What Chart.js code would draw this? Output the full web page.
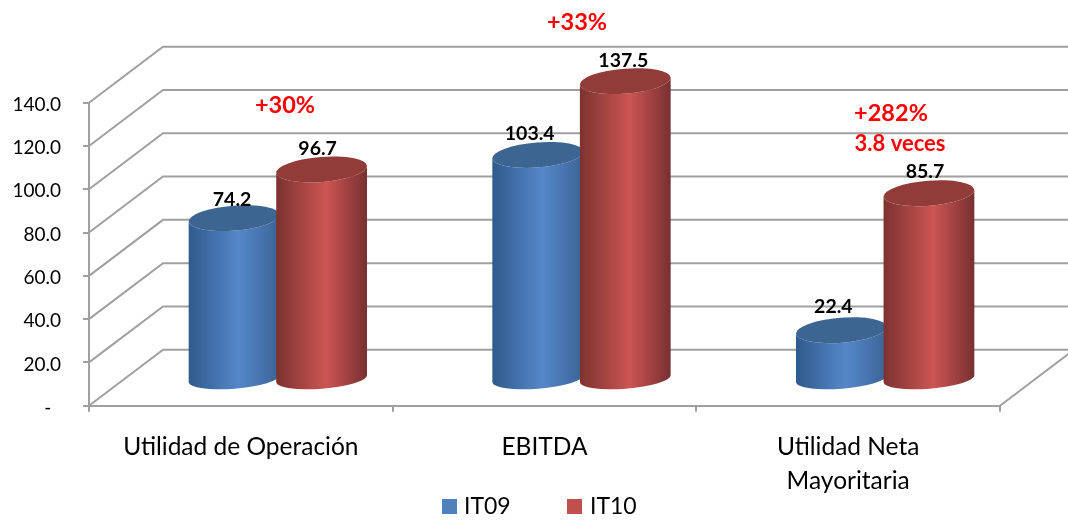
<!DOCTYPE html>
<html>
<head>
<meta charset="utf-8">
<style>
    html, body { margin: 0; padding: 0; background: #fff; }
    canvas { display: block; }
</style>
<script src="https://cdn.jsdelivr.net/npm/chart.js@4"></script>
</head>
<body>
<canvas id="chart" width="1068" height="520"></canvas>
<script>
const categories = [['Utilidad de Operación'], ['EBITDA'], ['Utilidad Neta', 'Mayoritaria']];
const seriesNames = ['IT09', 'IT10'];
const it09 = [74.2, 103.4, 22.4];
const it10 = [96.7, 137.5, 85.7];
const growthNotes = ['+30%', '+33%', '+282%'];
const extraNote = '3.8 veces';

const FONT = 'Lato, Carlito, sans-serif';
const GRID = '#a0a0a0';
const DEPTH_X = 74;
const DEPTH_Y = 56;

// per-bar label nudges, the labels in the original are hand placed
const labelNudge = [
    [[-2, -6], [-4, -9]],
    [[-8, -9], [-2, -8]],
    [[-8, -12], [-4, -10]]
];
const notePlace = [[285, 105], [577, 22], [891, 113]];

const looks = [
    { side: ['#2f5a8c', '#5587c9', '#3a6496'], top: '#3d6592', flat: '#4f81bd' },
    { side: ['#7c322f', '#cc5553', '#773030'], top: '#913c39', flat: '#c0504d' }
];

function drawCylinder(ctx, bar, look) {
    const cx = bar.x + DEPTH_X / 2;
    const rx = bar.width / 2;
    const topY = bar.y - 27;
    const baseY = bar.base - 26;
    const tilt = -4.5 * Math.PI / 180;

    const grad = ctx.createLinearGradient(cx - rx, 0, cx + rx, 0);
    grad.addColorStop(0, look.side[0]);
    grad.addColorStop(0.55, look.side[1]);
    grad.addColorStop(1, look.side[2]);

    ctx.beginPath();
    ctx.ellipse(cx, baseY, rx, 10, tilt, 0, Math.PI);
    ctx.ellipse(cx, topY, rx, 12.5, tilt, Math.PI, 0, true);
    ctx.closePath();
    ctx.fillStyle = grad;
    ctx.fill();

    ctx.beginPath();
    ctx.ellipse(cx, topY, rx, 12.5, tilt, 0, Math.PI * 2);
    ctx.fillStyle = look.top;
    ctx.fill();
}

const cylinders = {
    id: 'cylinders',
    beforeDatasetsDraw(chart) {
        const { ctx, scales, chartArea } = chart;
        ctx.save();
        ctx.strokeStyle = GRID;
        ctx.lineWidth = 2;
        scales.y.ticks.forEach(t => {
            const y = scales.y.getPixelForValue(t.value);
            ctx.beginPath();
            ctx.moveTo(chartArea.left, y);
            ctx.lineTo(chartArea.left + DEPTH_X, y - DEPTH_Y);
            ctx.lineTo(chartArea.right + DEPTH_X, y - DEPTH_Y);
            ctx.stroke();
        });
        ctx.beginPath();
        ctx.moveTo(chartArea.right, chartArea.bottom);
        ctx.lineTo(chartArea.right + DEPTH_X, chartArea.bottom - DEPTH_Y);
        ctx.stroke();
        ctx.restore();
    },
    beforeDatasetDraw() {
        return false; // default flat rectangles replaced below
    },
    afterDatasetsDraw(chart) {
        const { ctx } = chart;
        ctx.save();
        chart.data.datasets.forEach((ds, d) => {
            chart.getDatasetMeta(d).data.forEach(bar => drawCylinder(ctx, bar, looks[d]));
        });

        // value labels
        ctx.textAlign = 'center';
        ctx.textBaseline = 'middle';
        ctx.fillStyle = '#000';
        ctx.font = 'bold 19.5px ' + FONT;
        chart.data.datasets.forEach((ds, d) => {
            chart.getDatasetMeta(d).data.forEach((bar, i) => {
                const n = labelNudge[i][d];
                ctx.fillText(ds.data[i].toFixed(1), bar.x + DEPTH_X / 2 + n[0], bar.y - 27 - 12 + n[1]);
            });
        });

        // growth notes
        ctx.fillStyle = '#ff0000';
        ctx.font = 'bold 23.5px ' + FONT;
        growthNotes.forEach((txt, i) => ctx.fillText(txt, notePlace[i][0], notePlace[i][1]));
        ctx.font = 'bold 22px ' + FONT;
        ctx.fillText(extraNote, 900, 144);

        // legend
        const legendX = [[442, 464], [567, 590]];
        ctx.textAlign = 'left';
        ctx.font = '23px ' + FONT;
        seriesNames.forEach((name, d) => {
            ctx.fillStyle = looks[d].flat;
            ctx.fillRect(legendX[d][0], 499, 15, 15);
            ctx.fillStyle = '#000';
            ctx.fillText(name, legendX[d][1], 507);
        });
        ctx.restore();
    }
};

new Chart(document.getElementById('chart').getContext('2d'), {
    type: 'bar',
    data: {
        labels: categories,
        datasets: [
            { label: seriesNames[0], data: it09, backgroundColor: looks[0].flat },
            { label: seriesNames[1], data: it10, backgroundColor: looks[1].flat }
        ]
    },
    options: {
        responsive: false,
        animation: false,
        layout: { padding: { top: 102.7, right: 68, bottom: 14.3, left: 0 } },
        categoryPercentage: 0.5766,
        barPercentage: 1.04,
        plugins: {
            legend: { display: false },
            tooltip: { enabled: false }
        },
        scales: {
            x: {
                afterFit: s => { s.height = 100; },
                grid: { offset: true, drawOnChartArea: false, color: GRID, lineWidth: 2, tickLength: 6 },
                border: { color: GRID, width: 2 },
                ticks: {
                    color: '#000',
                    padding: 18,
                    maxRotation: 0,
                    font: { family: FONT, size: 24.5, lineHeight: 1.39 }
                }
            },
            y: {
                min: 0,
                max: 140,
                afterFit: s => { s.width = 89; },
                grid: { drawOnChartArea: false, color: GRID, lineWidth: 2, tickLength: 6 },
                border: { color: GRID, width: 2 },
                ticks: {
                    stepSize: 20,
                    color: '#000',
                    padding: 22,
                    labelOffset: 2,
                    font: { family: FONT, size: 19 },
                    callback: v => v === 0 ? '-  ' : v.toFixed(1)
                }
            }
        }
    },
    plugins: [cylinders]
});
</script>
</body>
</html>
